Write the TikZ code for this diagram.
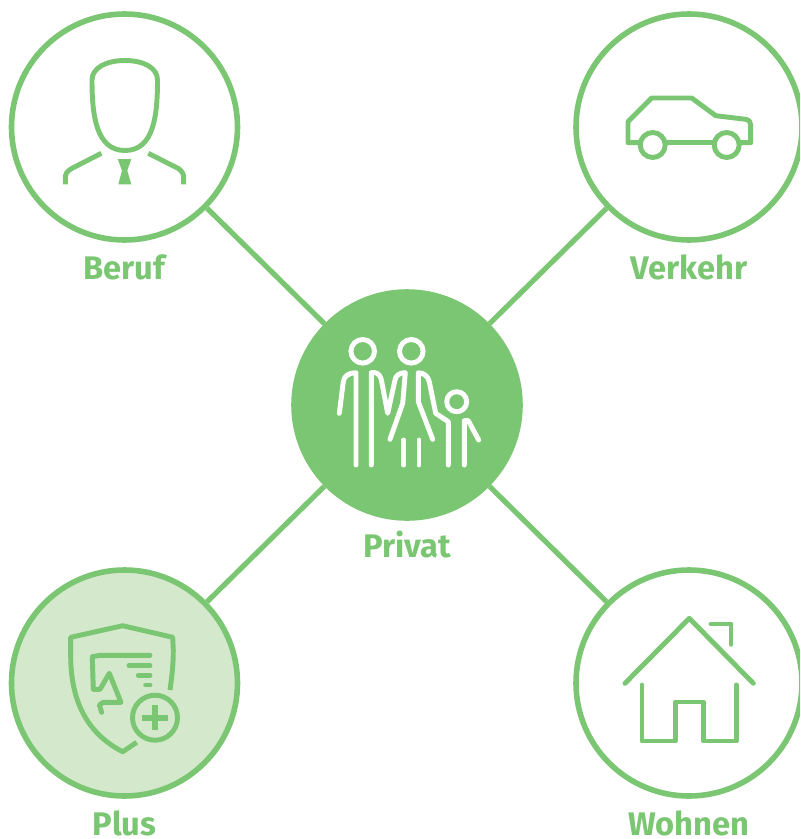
\documentclass[tikz,border=0pt]{standalone}
\usepackage{fontspec}
\usepackage{xcolor}
\setmainfont{Fira Sans}
\usetikzlibrary{positioning}
\definecolor{leaf}{HTML}{7BC672}
\definecolor{paleleaf}{HTML}{D4E8CC}

\begin{document}
\begin{tikzpicture}[x=0.75pt, y=-0.75pt, line join=round]
      \tikzstyle{topic}=[circle, draw=leaf, line width=4.2pt, minimum size=169.5pt, inner sep=0pt]
      \tikzstyle{caption}=[text=leaf, font=\fontsize{24.5}{24.5}\selectfont\bfseries, inner sep=0pt, text height=17pt, text depth=0pt]
      \tikzstyle{link}=[draw=leaf, line width=3.9pt]
      \tikzstyle{icon}=[draw=leaf, line width=3.7pt, line cap=round]
      \tikzstyle{iconwhite}=[draw=white, line width=3.7pt, line cap=round]

      \clip (0,0) rectangle (800,839);

      \node[topic] (beruf) at (124.5,127) {};
      \node[topic] (verkehr) at (689,127) {};
      \node[topic, fill=leaf] (privat) at (407,405) {};
      \node[topic, fill=paleleaf] (plus) at (124.5,683) {};
      \node[topic] (wohnen) at (689,683) {};

      \node[caption, below=10pt of beruf] (beruflabel) {Beruf};
      \node[caption, below=10pt of verkehr] (verkehrlabel) {Verkehr};
      \node[caption, below=10pt of privat] (privatlabel) {Privat};
      \node[caption, below=10pt of plus] (pluslabel) {Plus};
      \node[caption, below=10pt of wohnen] (wohnenlabel) {Wohnen};

      \path[link] (beruf) -- (privat);
      \path[link] (verkehr) -- (privat);
      \path[link] (plus) -- (privat);
      \path[link] (wohnen) -- (privat);

      % Beruf
      \draw[icon, line cap=butt] (125,60.5) .. controls (106,60.5) and (92,68) .. (92,80)
            .. controls (92,115) and (96,150.5) .. (125,150.5)
            .. controls (154,150.5) and (157.5,115) .. (157.5,80)
            .. controls (157.5,68) and (144,60.5) .. (125,60.5) -- cycle;
      \draw[icon, line cap=butt] (101.3,153.3) -- (71.7,168.5) .. controls (67,171) and (65.3,174) .. (65.3,178) -- (65.3,184.3);
      \draw[icon, line cap=butt] (148.3,153.3) -- (178.3,168.5) .. controls (182,171) and (183.7,174) .. (183.7,178) -- (183.7,184.3);
      \fill[leaf] (117.7,159) -- (131.3,159) -- (127.3,170.7) -- (131.3,184.3) -- (118.3,184.3) -- (122,170.7) -- cycle;

      % Verkehr
      \draw[icon] (639.3,142.7) -- (628,142.7) -- (628,121.7) -- (651.7,98) -- (691.7,98) -- (715.7,115.7) -- (745.7,119.3)
            .. controls (749,120) and (750.7,122) .. (750.7,125) -- (750.7,142.7) -- (740,142.7);
      \draw[icon] (666.7,142.7) -- (712.3,142.7);
      \draw[icon] (652.7,145) circle (12.5);
      \draw[icon] (726.7,145) circle (12.5);

      % Privat
      \draw[iconwhite] (362.7,351.3) circle (11.8);
      \draw[iconwhite] (411.3,351.3) circle (11.8);
      \draw[iconwhite] (456.7,401.7) circle (10);
      \draw[iconwhite] (339.3,413.3) -- (343.3,381.7) .. controls (344,376) and (349,372.7) .. (356,372.7) -- (356,465);
      \draw[iconwhite] (371.3,465) -- (371.3,372.7) -- (375,372.7) .. controls (378,373) and (381,376) .. (381.7,381.7) -- (387.7,413.3)
            -- (395,380) .. controls (396,376) and (398,373) .. (405.3,372.7) -- (402.7,403.3) -- (390,439.3);
      \draw[iconwhite] (432.7,439.3) -- (418.3,401.7) -- (418.3,372.7) .. controls (424,373) and (428,376) .. (429.3,381.7)
            -- (435.7,413.3) -- (448.3,421.7) -- (448.3,465);
      \draw[iconwhite] (403.7,440) -- (403.7,465);
      \draw[iconwhite] (419,440) -- (419,465);
      \draw[iconwhite] (464.3,465) -- (464.3,420.7) -- (468.3,420.7) -- (478.7,440);

      % Plus
      \draw[icon, line cap=butt] (170,690) .. controls (172,675) and (173.3,665) .. (173.3,650) -- (172.7,637.3) -- (122.7,625.7) -- (70.7,637.3) -- (70.7,656.7)
            .. controls (71,705) and (90,735) .. (122.7,751.7) -- (136.7,742.3);
      \draw[icon] (150,655.3) -- (100,655.3) -- (92.3,656.7) -- (93.3,689.3) -- (100,689.3) -- (109.3,673.3) -- (121,702.3) -- (103.3,702.3) -- (99.3,705) -- (101.7,712.3);
      \draw[icon] (129,665.7) -- (150,665.7);
      \draw[icon] (138.3,675.3) -- (150,675.3);
      \draw[icon] (145.7,685) -- (150,685);
      \draw[icon] (155,717.7) circle (22.5);
      \draw[icon, line cap=butt, line width=4.4pt] (142.3,717.7) -- (167.7,717.7);
      \draw[icon, line cap=butt, line width=4.4pt] (155,705) -- (155,730.4);

      % Wohnen
      \draw[icon] (625,683.3) -- (689.3,618.3) -- (753.3,683.3);
      \draw[icon] (711,624) -- (731,624) -- (731,644.3);
      \draw[icon] (642,685) -- (642,741) -- (675.3,741) -- (675.3,702) -- (703.3,702) -- (703.3,741) -- (736.3,741) -- (736.3,685);

      \end{tikzpicture}
\end{document}
